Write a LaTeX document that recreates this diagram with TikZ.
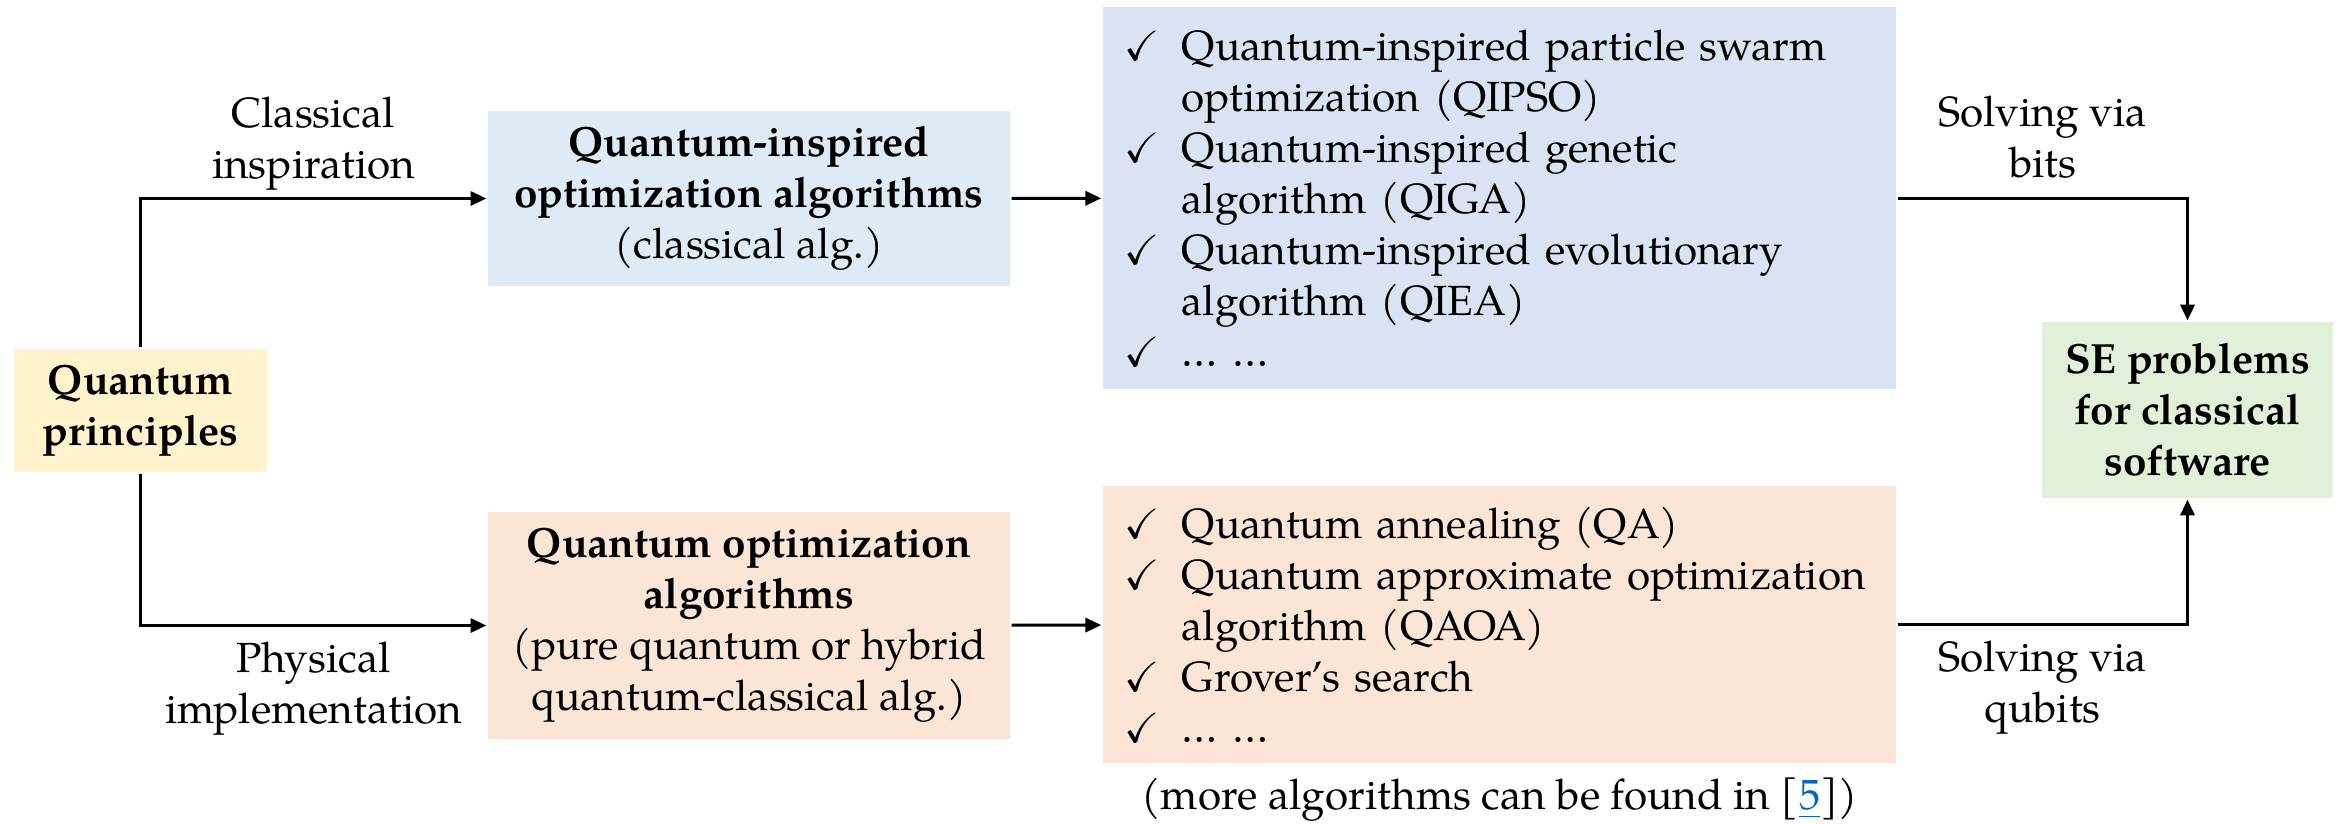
\documentclass[tikz,border=0pt]{standalone}
\usepackage{amssymb}
\usepackage{fontspec}
\setmainfont{TeX Gyre Pagella}
\usetikzlibrary{arrows.meta,positioning}

\definecolor{qpyellow}{HTML}{FFF2CC}
\definecolor{qiblue}{HTML}{DEEBF7}
\definecolor{listblue}{HTML}{DAE3F3}
\definecolor{qorange}{HTML}{FBE5D6}
\definecolor{segreen}{HTML}{E2F0D9}
\definecolor{citeblue}{HTML}{0563C1}

\newcommand{\chk}{\makebox[0.57cm][l]{$\checkmark$}}
\newcommand{\ind}{\hspace*{0.57cm}}

\begin{document}
\begin{tikzpicture}[x=0.01cm, y=-0.01cm, line width=0.85pt,
      box/.style = {inner sep=0pt, align=center, font=\fontsize{12pt}{14.5pt}\selectfont},
      lst/.style = {box, align=left, text width=7.49cm, minimum width=7.93cm},
      lbl/.style = {align=center, font=\fontsize{12pt}{14.5pt}\selectfont},
      arr/.style = {-{Triangle[length=4.5pt, width=4pt]}}]
      \useasboundingbox (0,0) rectangle (2343,823);

      \node[box, fill=qpyellow, minimum width=2.53cm, minimum height=1.23cm] (qp) at (140.5,410.5)
        {\textbf{Quantum}\\\textbf{principles}};
      \node[box, fill=qiblue, minimum width=5.22cm, minimum height=1.75cm] (qio) at (749,198.5)
        {\textbf{Quantum-inspired}\\\textbf{optimization algorithms}\\(classical alg.)};
      \node[box, fill=qorange, minimum width=5.22cm, minimum height=2.27cm] (qoa) at (749,625.5)
        {\textbf{Quantum optimization}\\\textbf{algorithms}\\(pure quantum or hybrid\\quantum-classical alg.)};
      \node[lst, fill=listblue, minimum height=3.82cm] (list1) at (1499.5,198)
        {\chk Quantum-inspired particle swarm\\
         \ind optimization (QIPSO)\\
         \chk Quantum-inspired genetic\\
         \ind algorithm (QIGA)\\
         \chk Quantum-inspired evolutionary\\
         \ind algorithm (QIEA)\\
         \chk \dots\ \dots};
      \node[lst, fill=qorange, minimum height=2.77cm] (list2) at (1499.5,624.5)
        {\chk Quantum annealing (QA)\\
         \chk Quantum approximate optimization\\
         \ind algorithm (QAOA)\\
         \chk Grover's search\\
         \chk \dots\ \dots};
      \node[box, fill=segreen, minimum width=2.91cm, minimum height=1.76cm] (se) at (2187.5,410)
        {\textbf{SE problems}\\\textbf{for classical}\\\textbf{software}};
      \node[lbl, inner sep=0pt, below=0.12cm of list2] (more)
        {(more algorithms can be found in [\textcolor{citeblue}{\underline{5}}])};

      \draw[arr] (qp.north) |- node[lbl, pos=0.75, above=-1.5pt, text depth=3.5pt] {Classical\\inspiration} (qio.west);
      \draw[arr] (qp.south) |- node[lbl, pos=0.75, below=1pt] {Physical\\implementation} (qoa.west);
      \draw[arr] (qio) -- (list1);
      \draw[arr] (qoa) -- (list2);
      \draw[arr] (list1.east) -| node[lbl, pos=0.25, above=-1.5pt, text depth=3.5pt] {Solving via\\bits} (se.north);
      \draw[arr] (list2.east) -| node[lbl, pos=0.25, below=1pt] {Solving via\\qubits} (se.south);
    \end{tikzpicture}
\end{document}
